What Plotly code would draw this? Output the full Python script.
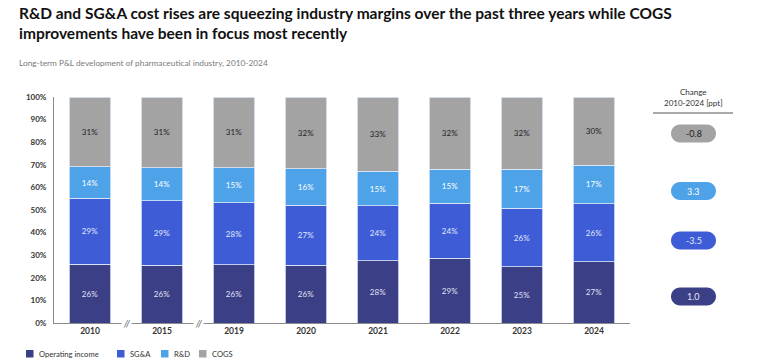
import plotly.graph_objects as go

years = ["2010", "2015", "2019", "2020", "2021", "2022", "2023", "2024"]
series_names = ["Operating income", "SG&A", "R&D", "COGS"]
operating_income = [26.1, 25.6, 25.7, 25.6, 27.6, 28.6, 24.9, 27.1]
sga = [29.0, 28.6, 27.6, 26.6, 24.3, 24.3, 25.8, 25.6]
rnd = [14.0, 14.4, 15.3, 16.1, 15.2, 15.2, 17.3, 17.2]
cogs = [30.9, 31.4, 31.4, 31.7, 32.9, 31.9, 32.0, 30.1]
change_2010_2024 = [1.0, -3.5, 3.3, -0.8]
y_ticks = [0, 10, 20, 30, 40, 50, 60, 70, 80, 90, 100]

colors = ["#3a3f86", "#3e5cd5", "#4ea2e8", "#a3a3a3"]
label_colors = ["#e2e2f6", "#e0e8ff", "#ffffff", "#222222"]
values = [operating_income, sga, rnd, cogs]

FONT = "Lato"
fig = go.Figure()
for name, vals, col, lc in zip(series_names, values, colors, label_colors):
    fig.add_trace(go.Bar(
        x=years, y=vals, name=name, marker_color=col,
        marker_line_color="#dfe8f7", marker_line_width=0.8,
        texttemplate="%{y:.0f}%", textposition="inside", insidetextanchor="middle",
        textfont=dict(family=FONT, size=8, color=lc), showlegend=False,
        hoverinfo="skip",
    ))

L, R, T, B = 54, 130, 97, 39
W, H = 760, 362
pw, ph = W - L - R, H - T - B

def px(xp):
    return (xp - L) / pw

def py(yp):
    return (H - B - yp) / ph

annotations = []
shapes = []

# title
annotations.append(dict(text="R&D and SG&A cost rises are squeezing industry margins over the past three years while COGS<br>improvements have been in focus most recently",
                        xref="paper", yref="paper", x=px(17), y=py(2), xanchor="left", yanchor="top",
                        align="left", showarrow=False,
                        font=dict(family=FONT, size=15.5, color="#111111", weight="bold")))

# subtitle
annotations.append(dict(text="Long-term P&L development of pharmaceutical industry, 2010-2024",
                        xref="paper", yref="paper", x=px(17), y=py(63), xanchor="left", yanchor="middle",
                        showarrow=False, font=dict(family=FONT, size=8.3, color="#7a7a7a")))

# axis breaks
for xb in [0.5, 1.5]:
    annotations.append(dict(text="<i>//</i>", xref="x", yref="paper", x=xb, y=0, xanchor="center",
                            yanchor="middle", showarrow=False, bgcolor="white",
                            font=dict(family=FONT, size=9, color="#555555")))

# change header
annotations.append(dict(text="Change", xref="paper", yref="paper", x=px(693), y=py(92),
                        xanchor="center", yanchor="middle",
                        showarrow=False, font=dict(family=FONT, size=8, color="#333333")))
annotations.append(dict(text="2010-2024 [ppt]", xref="paper", yref="paper", x=px(693), y=py(103),
                        xanchor="center", yanchor="middle",
                        showarrow=False, font=dict(family=FONT, size=8, color="#333333")))
shapes.append(dict(type="line", xref="paper", yref="paper", x0=px(653), x1=px(733), y0=py(113), y1=py(113),
                   line=dict(color="#555555", width=1)))

# pills
pill_y = [296.5, 240.5, 191, 133.5]
pill_text_colors = ["#e2e2f6", "#e0e8ff", "#ffffff", "#222222"]
hw, hh, k = 13.5, 9, 4.97
path = (f"M{-hw},{-hh} L{hw},{-hh} C{hw+k},{-hh} {hw+hh},{-k} {hw+hh},0 "
        f"C{hw+hh},{k} {hw+k},{hh} {hw},{hh} L{-hw},{hh} C{-hw-k},{hh} {-hw-hh},{k} {-hw-hh},0 "
        f"C{-hw-hh},{-k} {-hw-k},{-hh} {-hw},{-hh} Z")
for val, yc, col, tc in zip(change_2010_2024, pill_y, colors, pill_text_colors):
    shapes.append(dict(type="path", xref="paper", yref="paper", xsizemode="pixel", ysizemode="pixel",
                       xanchor=px(693.5), yanchor=py(yc), path=path, fillcolor=col, line=dict(width=0)))
    annotations.append(dict(text=f"{val:.1f}", xref="paper", yref="paper", x=px(693.5), y=py(yc),
                            xanchor="center", yanchor="middle",
                            showarrow=False, font=dict(family=FONT, size=9, color=tc)))

# manual legend
leg_sq_x = [26, 117, 161, 199]
for name, col, xs in zip(series_names, colors, leg_sq_x):
    shapes.append(dict(type="rect", xref="paper", yref="paper", x0=px(xs), x1=px(xs + 7.5),
                       y0=py(350), y1=py(357.5), fillcolor=col, line=dict(width=0)))
    annotations.append(dict(text=name, xref="paper", yref="paper", x=px(xs + 10.5), y=py(353.8),
                            xanchor="left", yanchor="middle", showarrow=False,
                            font=dict(family=FONT, size=7.6, color="#333333")))

fig.update_layout(
    barmode="stack", bargap=0.42,
    width=W, height=H, margin=dict(l=L, r=R, t=T, b=B, pad=0),
    paper_bgcolor="white", plot_bgcolor="white",
    xaxis=dict(range=[-0.5, 7.5], showline=True, linecolor="#8c8c8c", linewidth=1, ticks="",
               tickfont=dict(family=FONT, size=8.5, color="#333333", weight="bold"), fixedrange=True),
    yaxis=dict(range=[0, 100], tickvals=y_ticks, ticktext=[f"{t}%" for t in y_ticks],
               showline=True, linecolor="#8c8c8c", linewidth=1, showgrid=False, zeroline=False,
               ticks="", ticklabelstandoff=5, fixedrange=True,
               tickfont=dict(family=FONT, size=8, color="#333333", weight="bold")),
    annotations=annotations, shapes=shapes, uniformtext=dict(minsize=6, mode="show"),
)

fig.write_html("out.html", config={"displayModeBar": False},
               post_script="document.body.style.margin='0';document.body.style.overflow='hidden';")
